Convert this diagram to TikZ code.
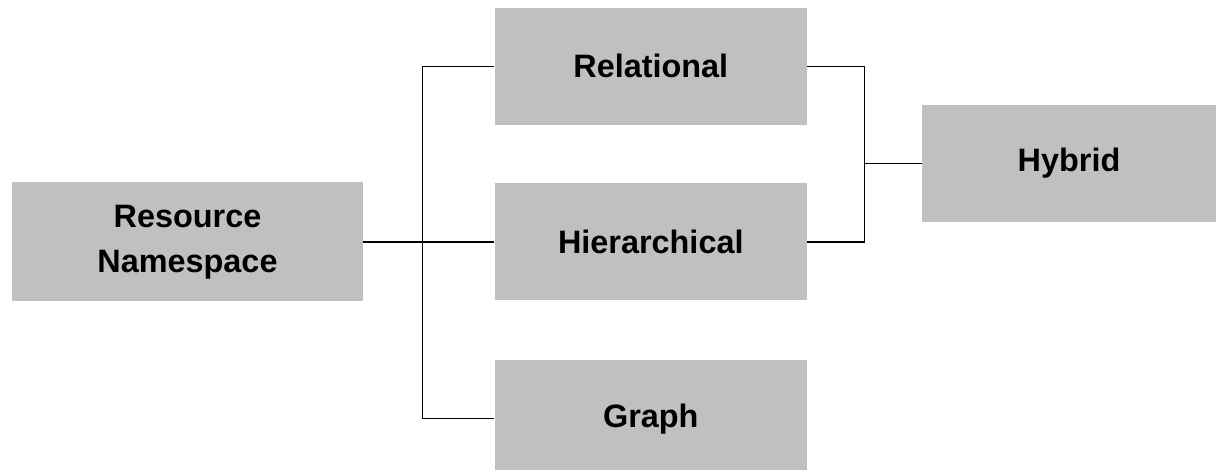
\documentclass[tikz,border=0pt]{standalone}
\usepackage{fontspec}
\setmainfont{Liberation Sans}
\usetikzlibrary{positioning}
\definecolor{boxgray}{HTML}{C0C0C0}

\begin{document}
\begin{tikzpicture}[x=0.5pt, y=-0.5pt,
  kind/.style={rectangle, fill=boxgray, minimum width=156pt, minimum height=58.5pt, inner sep=0pt,
    font=\fontsize{16.2}{22.5}\selectfont\bfseries, align=center},
  link/.style={line width=0.65pt}]
\useasboundingbox (0,0) rectangle (1216,470);
\node[kind, minimum width=175.5pt, minimum height=59.5pt] (res) at (187.5,242) {Resource\\Namespace};
\node[kind, right=65.5pt of res] (hier) {Hierarchical};
\node[kind, above=29pt of hier] (rel) {Relational};
\node[kind, below=29.5pt of hier] (graph) {Graph};
\node[kind, minimum width=147pt] (hyb) at (1069,163.5) {Hybrid};
\coordinate[left=36pt of rel.west] (jl);
\coordinate[right=28.5pt of rel.east] (jr);
\draw[link] (res.east) -- (hier.west);
\draw[link] (rel.west) -- (jl) |- (graph.west);
\draw[link] (rel.east) -- (jr) |- (hier.east);
\draw[link] (hyb.west) -- (hyb.west -| jr);
\end{tikzpicture}
\end{document}
